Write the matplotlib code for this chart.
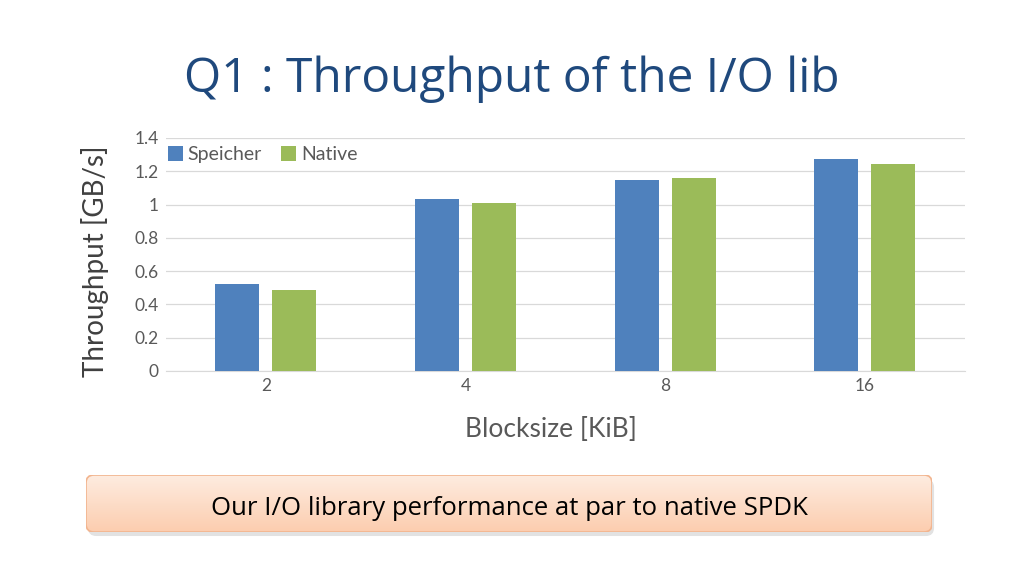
import matplotlib
matplotlib.use("Agg")
import matplotlib.pyplot as plt
from matplotlib.patches import FancyBboxPatch
import numpy as np

blocksizes = ["2", "4", "8", "16"]
speicher = [0.523, 1.032, 1.148, 1.272]
native = [0.487, 1.011, 1.160, 1.244]
yticks = [0, 0.2, 0.4, 0.6, 0.8, 1, 1.2, 1.4]
ytick_labels = ["0", "0.2", "0.4", "0.6", "0.8", "1", "1.2", "1.4"]

BLUE, GREEN = "#4F81BD", "#9BBB59"
plt.rcParams["font.family"] = ["Lato", "DejaVu Sans"]

fig = plt.figure(figsize=(10.24, 5.75), dpi=100)
fig.patch.set_facecolor("white")

# slide title
fig.text(0.5, 0.862, "Q1 : Throughput of the I/O lib", ha="center", va="center",
         fontsize=34.5, color="#1F497D", family=["Open Sans", "DejaVu Sans"])

# chart
ax = fig.add_axes([0.162, 0.355, 0.780, 0.405])
x = np.arange(len(blocksizes)); w = 0.22
ax.bar(x - 0.1425, speicher, w, color=BLUE, label="Speicher", zorder=3)
ax.bar(x + 0.1425, native, w, color=GREEN, label="Native", zorder=3)
ax.set_xlim(-0.5, 3.5)
ax.set_ylim(0, 1.4)
ax.set_yticks(yticks)
ax.set_yticklabels(ytick_labels)
ax.set_xticks(x)
ax.set_xticklabels(blocksizes)
ax.tick_params(axis="both", length=0, labelsize=12.5, colors="#595959", pad=5)
ax.grid(axis="y", color="#D9D9D9", linewidth=0.9, zorder=0)
for s in ["top", "right", "left"]:
    ax.spines[s].set_visible(False)
ax.spines["bottom"].set_color("#D9D9D9")
ax.set_ylabel("Throughput [GB/s]", fontsize=20, color="#404040")
ax.yaxis.set_label_coords(-0.071, 0.472)
ax.set_xlabel("Blocksize [KiB]", fontsize=19, color="#595959")
ax.xaxis.set_label_coords(0.482, -0.20)
ax.xaxis.label.set_va("top")
ax.legend(loc="upper left", ncol=2, frameon=False, fontsize=14, handlelength=0.75,
          handleheight=0.75, handletextpad=0.25, columnspacing=1.0,
          bbox_to_anchor=(-0.019, 1.04), labelcolor="#595959")

# callout box with gradient
bx, by, bw, bh = 86 / 1024, 1 - 532 / 575, (932 - 86) / 1024, (532 - 475) / 575
shadow = FancyBboxPatch((bx + 0.002, by - 0.007), bw, bh, boxstyle="round,pad=0,rounding_size=0.008",
                        transform=fig.transFigure, facecolor="#cfcfcf", edgecolor="none", alpha=0.6,
                        mutation_aspect=1024 / 575, zorder=-1)
fig.patches.append(shadow)
gax = fig.add_axes([bx, by, bw, bh])
gax.set_axis_off()
grad = np.linspace(0, 1, 100).reshape(-1, 1)
top_c = np.array([254, 236, 224]) / 255
bot_c = np.array([252, 205, 175]) / 255
img = top_c[None, None, :] * (1 - grad[:, :, None]) + bot_c[None, None, :] * grad[:, :, None]
im = gax.imshow(img, aspect="auto", extent=[0, 1, 0, 1], origin="upper")
gax.set_xlim(0, 1); gax.set_ylim(0, 1)
clip = FancyBboxPatch((0, 0), 1, 1, boxstyle="round,pad=0,rounding_size=0.0095",
                      transform=gax.transAxes, facecolor="none", edgecolor="#F2B48E", linewidth=1.2,
                      mutation_aspect=bw * 1024 / (bh * 575))
gax.add_patch(clip)
im.set_clip_path(clip)
gax.text(0.5, 0.42, "Our I/O library performance at par to native SPDK", ha="center", va="center",
         fontsize=18.5, color="black", family=["Open Sans", "DejaVu Sans"], transform=gax.transAxes)

fig.savefig("out.png", dpi=100)
